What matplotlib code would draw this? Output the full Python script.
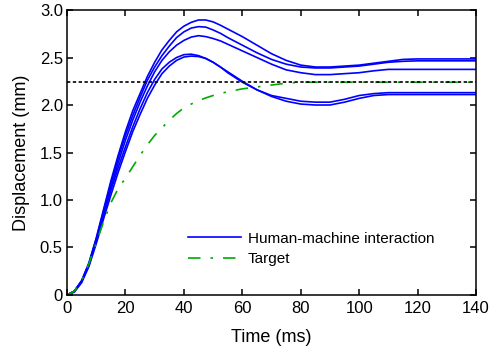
import matplotlib
matplotlib.use('Agg')
import matplotlib.pyplot as plt

plt.rcParams['font.family'] = ['Liberation Sans', 'DejaVu Sans']

# time samples (ms): 2.5 ms steps up to 60 ms, then 5 ms steps
t = [0, 2.5, 5, 7.5, 10, 12.5, 15, 17.5, 20, 22.5, 25, 27.5, 30, 32.5, 35, 37.5, 40,
     42.5, 45, 47.5, 50, 52.5, 55, 57.5, 60,
     65, 70, 75, 80, 85, 90, 95, 100, 105, 110, 115, 120, 125, 130, 135, 140]

# human-machine interaction trials (mm)
trial_a = [0, 0.04, 0.15, 0.34, 0.60, 0.90, 1.20, 1.47, 1.72, 1.94, 2.12, 2.30, 2.45, 2.58, 2.68,
           2.77, 2.83, 2.87, 2.895, 2.895, 2.875, 2.84, 2.80, 2.76, 2.72,
           2.63, 2.54, 2.47, 2.42, 2.40, 2.40, 2.41, 2.42, 2.44, 2.46, 2.48, 2.485, 2.485, 2.485,
           2.485, 2.485]
trial_b = [0, 0.04, 0.15, 0.33, 0.59, 0.88, 1.17, 1.44, 1.68, 1.89, 2.08, 2.26, 2.40, 2.52, 2.62,
           2.71, 2.77, 2.81, 2.825, 2.82, 2.79, 2.755, 2.71, 2.67, 2.63,
           2.55, 2.48, 2.43, 2.40, 2.39, 2.39, 2.40, 2.41, 2.43, 2.45, 2.46, 2.465, 2.465, 2.465,
           2.465, 2.465]
trial_c = [0, 0.04, 0.14, 0.32, 0.57, 0.85, 1.13, 1.39, 1.63, 1.84, 2.03, 2.20, 2.35, 2.47, 2.56,
           2.63, 2.68, 2.715, 2.73, 2.72, 2.70, 2.675, 2.64, 2.605, 2.57,
           2.50, 2.43, 2.37, 2.34, 2.32, 2.32, 2.33, 2.34, 2.36, 2.375, 2.375, 2.375, 2.375, 2.375,
           2.375, 2.375]
trial_d = [0, 0.04, 0.14, 0.32, 0.56, 0.83, 1.10, 1.34, 1.56, 1.77, 1.96, 2.13, 2.27, 2.38, 2.45,
           2.50, 2.53, 2.535, 2.52, 2.49, 2.45, 2.40, 2.34, 2.29, 2.24,
           2.16, 2.10, 2.07, 2.04, 2.03, 2.03, 2.06, 2.10, 2.12, 2.13, 2.13, 2.13, 2.13, 2.13,
           2.13, 2.13]
trial_e = [0, 0.03, 0.13, 0.30, 0.54, 0.80, 1.05, 1.29, 1.51, 1.72, 1.90, 2.07, 2.21, 2.33, 2.41,
           2.47, 2.505, 2.515, 2.51, 2.49, 2.45, 2.40, 2.35, 2.30, 2.25,
           2.16, 2.09, 2.04, 2.01, 2.00, 2.00, 2.03, 2.07, 2.10, 2.11, 2.11, 2.11, 2.11, 2.11,
           2.11, 2.11]
trials = [trial_a, trial_b, trial_c, trial_d, trial_e]

# target response (mm)
target = [0, 0.04, 0.15, 0.33, 0.55, 0.77, 0.97, 1.12, 1.23, 1.35, 1.47, 1.58, 1.68, 1.76, 1.84,
          1.91, 1.97, 2.01, 2.045, 2.075, 2.10, 2.12, 2.14, 2.155, 2.17,
          2.19, 2.21, 2.23, 2.24, 2.24, 2.24, 2.24, 2.24, 2.24, 2.24, 2.24, 2.24, 2.24, 2.24,
          2.24, 2.24]
steady_level = 2.24

fig = plt.figure(figsize=(4.91, 3.54), dpi=100)
ax = fig.add_axes([0.1365, 0.1667, 0.833, 0.805])

for i, y in enumerate(trials):
    ax.plot(t, y, color='#0000ff', linewidth=1.2,
            label='Human-machine interaction' if i == 0 else None)
ax.plot(t, target, color='#00aa00', linewidth=1.2, linestyle=(0, (7.5, 6, 1.5, 6)),
        label='Target')
ax.axhline(steady_level, color='black', linewidth=1.2, linestyle=(0, (2, 1.5)))

ax.set_xlim(0, 140)
ax.set_ylim(0, 3.0)
ax.set_xticks(range(0, 141, 20))
ax.set_yticks([0, 0.5, 1.0, 1.5, 2.0, 2.5, 3.0])
ax.set_yticklabels(['0', '0.5', '1.0', '1.5', '2.0', '2.5', '3.0'])
ax.tick_params(direction='in', length=4, width=1.1, top=True, right=True, labelsize=12)
ax.tick_params(axis='x', pad=4)
ax.tick_params(axis='y', pad=3)
for s in ax.spines.values():
    s.set_linewidth(1.1)
ax.set_xlabel('Time (ms)', fontsize=13, labelpad=10)
ax.set_ylabel('Displacement (mm)', fontsize=13, labelpad=7)

ax.legend(loc='upper left', bbox_to_anchor=(0.262, 0.27), frameon=False, fontsize=11,
          handlelength=3.5, handletextpad=0.4, labelspacing=0.4)

fig.savefig('out.png', dpi=100)
